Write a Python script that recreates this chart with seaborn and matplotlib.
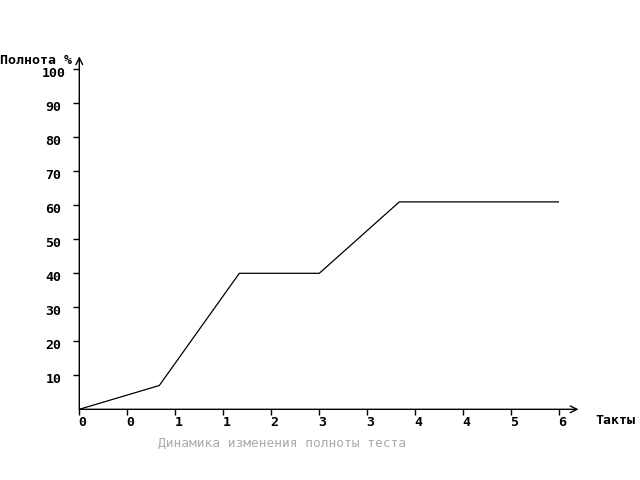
import seaborn as sb
import pandas as pd
import numpy as np
import matplotlib
matplotlib.use("Agg")
import matplotlib.pyplot as plt
from matplotlib.transforms import ScaledTranslation

# data
takty = [0, 1, 2, 3, 4, 6]
polnota = [0, 7, 40, 40, 61, 61]

x_ticks = np.linspace(0, 6, 11)
x_tick_labels = ["0", "0", "1", "1", "2", "3", "3", "4", "4", "5", "6"]
y_ticks = [10, 20, 30, 40, 50, 60, 70, 80, 90, 100]
y_tick_labels = ["10", "20", "30", "40", "50", "60", "70", "80", "90", "100"]

title = "Динамика изменения полноты теста"
x_name = "Такты"
y_name = "Полнота %"

sb.set_style("white")
plt.rcParams['font.family'] = ['DejaVu Sans Mono', 'DejaVu Sans']
plt.rcParams['text.color'] = "black"
plt.rcParams['xtick.color'] = "black"
plt.rcParams['ytick.color'] = "black"

df = pd.DataFrame({"takty": takty, "polnota": polnota})

fig = plt.figure(figsize=(6.4, 4.8), dpi=100)
ax = fig.add_axes([79.3 / 640, 70.7 / 480, 480 / 640, 340 / 480])

graph = sb.lineplot(ax=ax, data=df, x="takty", y="polnota", color="black", linewidth=0.9)
graph.set_xlim(0, 6)
graph.set_ylim(0, 100)
graph.set_xlabel("")
graph.set_ylabel("")

for s in ax.spines.values():
    s.set_visible(False)

# axes with arrows
arrow = dict(arrowstyle="->", color="black", lw=1, shrinkA=0, shrinkB=0,
             mutation_scale=12)
ax.annotate("", xy=(6.24, 0), xytext=(0, 0), arrowprops=arrow,
            annotation_clip=False)
ax.annotate("", xy=(0, 103.8), xytext=(0, 0), arrowprops=arrow,
            annotation_clip=False)

ax.set_xticks(x_ticks)
ax.set_xticklabels(x_tick_labels, fontsize=9.5, fontweight="bold")
ax.set_yticks(y_ticks)
ax.set_yticklabels(y_tick_labels, fontsize=9.5, fontweight="bold", ha="center")
ax.tick_params(axis="x", direction="out", length=4, width=1, color="black",
               bottom=True, pad=0.5)
ax.tick_params(axis="y", direction="out", length=4, width=1, color="black",
               left=True, pad=14.6)

# labels are a bit off their ticks in the reference
yshift = ScaledTranslation(0, -2.5 / 100, fig.dpi_scale_trans)
for lab in ax.get_yticklabels():
    lab.set_transform(lab.get_transform() + yshift)
xshift = ScaledTranslation(3 / 100, 0, fig.dpi_scale_trans)
for lab in ax.get_xticklabels():
    lab.set_transform(lab.get_transform() + xshift)

fig.text(0 / 640, 1 - 61 / 480, y_name, fontsize=9.5, fontweight="bold",
         ha="left", va="center")
fig.text(595 / 640, 1 - 421 / 480, x_name, fontsize=9.5, fontweight="bold",
         ha="left", va="center")
fig.text(158 / 640, 1 - 443 / 480, title, fontsize=9.3, color="#ababab",
         ha="left", va="center")

plt.savefig("out.png", dpi=100)
